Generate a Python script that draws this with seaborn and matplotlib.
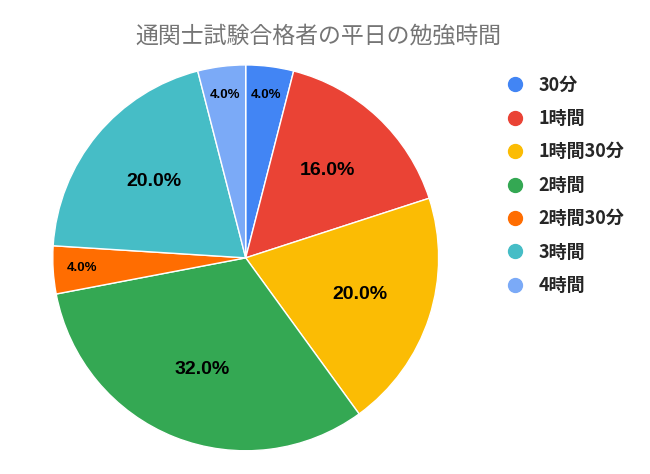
import matplotlib
matplotlib.use("Agg")
import matplotlib.pyplot as plt
import seaborn as sns
import numpy as np
from matplotlib.lines import Line2D

sns.set_theme(style="white")
plt.rcParams['font.family'] = ['Liberation Sans', 'Noto Sans CJK JP', 'DejaVu Sans']

categories = ["30分", "1時間", "1時間30分", "2時間", "2時間30分", "3時間", "4時間"]
values = [4.0, 16.0, 20.0, 32.0, 4.0, 20.0, 4.0]
colors = ["#4285F4", "#EA4335", "#FBBC04", "#34A853", "#FF6D01", "#46BDC6", "#7BAAF7"]
title = "通関士試験合格者の平日の勉強時間"

fig = plt.figure(figsize=(6.5, 4.74), dpi=100)
fig.patch.set_facecolor("white")
ax = fig.add_axes([0.378 - 0.297, 0.456 - 0.407, 0.594, 0.814])
wedges, _ = ax.pie(values, colors=colors, startangle=90, counterclock=False,
                   wedgeprops=dict(edgecolor="white", linewidth=1))
ax.set_xlim(-1, 1)
ax.set_ylim(-1, 1)
ax.set_aspect("equal")
for w, v in zip(wedges, values):
    ang = np.deg2rad((w.theta1 + w.theta2) / 2)
    small = v < 5
    r = 0.85 if small else 0.62
    ax.text(r * np.cos(ang), r * np.sin(ang), f"{v:.1f}%", ha="center", va="center",
            fontsize=9.5 if small else 14, fontweight="bold", color="black")

fig.text(0.49, 0.925, title, ha="center", va="center", fontsize=16.5, color="#757575",
         family=['Noto Sans CJK JP', 'DejaVu Sans'])

handles = [Line2D([0], [0], marker="o", linestyle="", markersize=10,
                  markerfacecolor=c, markeredgecolor=c) for c in colors]
leg = fig.legend(handles, categories, loc="upper left", bbox_to_anchor=(0.74, 0.875),
                 frameon=False, handletextpad=0.3, labelspacing=0.8,
                 prop=dict(size=13, weight="bold", family=['Noto Sans CJK JP', 'DejaVu Sans']))
fig.savefig("out.png", dpi=100)
